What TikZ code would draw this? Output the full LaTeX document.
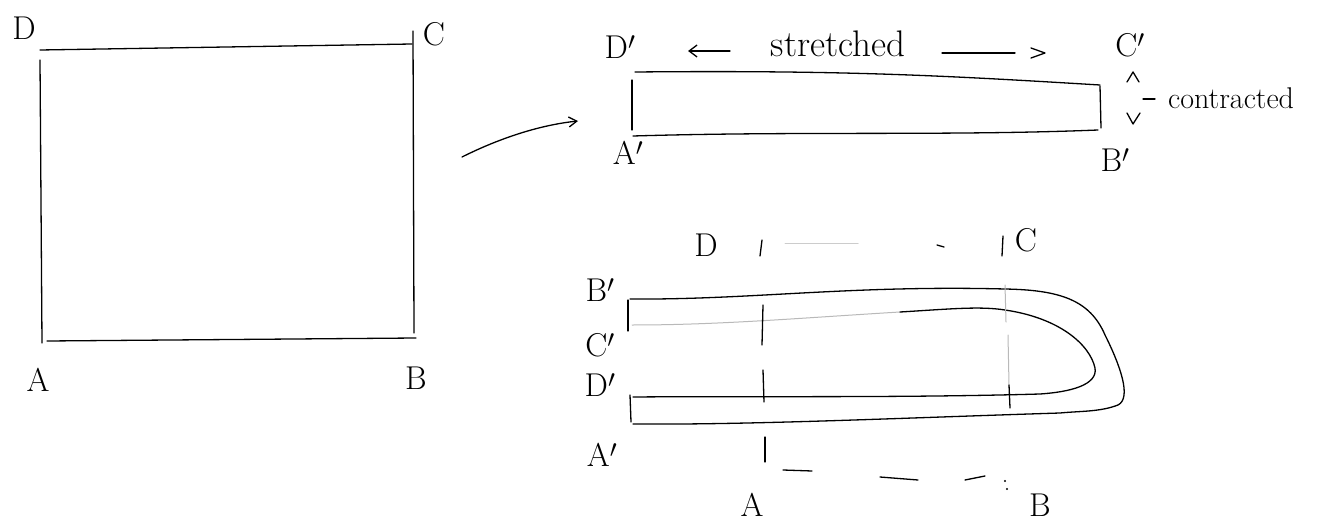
\documentclass[tikz,border=0pt]{standalone}
\usetikzlibrary{arrows.meta}
\begin{document}
\begin{tikzpicture}[x=1pt,y=-1pt]
\tikzset{
  pen/.style={line width=1.3pt, line cap=round, line join=round, black},
  faint/.style={line width=1pt, line cap=round, gray!55},
  lbl/.style={font=\fontsize{33}{35}\selectfont, inner sep=0pt},
  word/.style={font=\fontsize{30}{32}\selectfont, inner sep=0pt}
}
\useasboundingbox (0,0) rectangle (1317,524);
\fill[white] (0,0) rectangle (1317,524);

% ---------- left square ----------
\node[lbl] (D) at (24,28) {D};
\node[lbl] (C) at (434,34) {C};
\node[lbl] (A) at (38,380) {A};
\node[lbl] (B) at (416,378) {B};
\draw[pen] (40,50) -- (412,44);
\draw[pen] (40,60) -- (42,343);
\draw[pen] (413,31) -- (414,333);
\draw[pen] (47,341) -- (416,338);

% ---------- transformation arrow ----------
\coordinate (arrS) at (462,157);
\coordinate (arrE) at (578,121);
\draw[pen,-{Straight Barb[length=8pt,width=10pt]}] (arrS) .. controls (500,138) and (540,125) .. (arrE);

% ---------- stretched rectangle ----------
\node[lbl] (Dp1) at (620,47) {D$'$};
\node[lbl] (Cp1) at (1130,45) {C$'$};
\node[lbl] (Ap1) at (628,153) {A$'$};
\node[lbl] (Bp1) at (1115,160) {B$'$};
\draw[pen] (635,72) .. controls (850,70) and (950,76) .. (1100,85);
\draw[pen] (632,80) -- (632,130);
\draw[pen] (633,136) .. controls (800,131) and (950,136) .. (1098,130);
\draw[pen] (1100,86) -- (1101,128);

\coordinate (stL1) at (730,51);
\coordinate (stL2) at (688,51);
\draw[pen,-{Straight Barb[length=8pt,width=12pt]}] (stL1) -- (stL2);
\node[word, font=\fontsize{37}{39}\selectfont] (str) at (838,44) {stretched};
\draw[pen] (942,53) -- (1015,53);
\draw[pen] (1031,48) -- (1045,53) -- (1031,58);

\draw[pen] (1127,82) -- (1133,72) -- (1139,82);
\draw[pen] (1127,113) -- (1133,124) -- (1140,113);
\draw[pen] (1143,99) -- (1155,99);
\node[word, anchor=west] (con) at (1168,98) {contracted};

% ---------- folded strip ----------
\node[lbl] (Dt) at (706,245) {D};
\node[lbl] (Ct) at (1026,240) {C};
\draw[pen] (762,240) -- (760,256);
\draw[faint, gray!40] (785,243) -- (858,243);
\draw[pen] (937,245) -- (944,247);
\draw[pen] (1003,236) -- (1002,256);

\node[lbl] (Bp2) at (600,290) {B$'$};
\node[lbl] (Cp2) at (600,345) {C$'$};
\node[lbl] (Dp2) at (600,385) {D$'$};
\node[lbl] (Ap2) at (602,455) {A$'$};

% outer band (B' ... A')
\draw[pen] (630,299) .. controls (750,300) and (850,285) .. (1005,289)
  .. controls (1060,290) and (1090,300) .. (1105,335)
  .. controls (1120,365) and (1132,398) .. (1118,405)
  .. controls (1100,412) and (1080,411) .. (1060,413)
  .. controls (900,418) and (750,425) .. (633,424);
\draw[pen] (628,300) -- (628,331);
\draw[pen] (630,395) -- (631,422);

% inner band (C' ... D')
\draw[faint] (632,325) .. controls (720,325) and (800,318) .. (900,312);
\draw[pen] (900,312) .. controls (950,309) and (980,306) .. (1005,310)
  .. controls (1060,318) and (1090,345) .. (1095,368)
  .. controls (1098,385) and (1070,392) .. (1040,394)
  .. controls (900,398) and (750,396) .. (633,397);

% cross ticks
\draw[pen] (763,305) -- (762,345);
\draw[pen] (763,370) -- (764,402);
\draw[faint] (1005,285) -- (1006,322);
\draw[faint] (1008,335) -- (1009,385);
\draw[pen] (1009,385) -- (1010,408);

% bottom row
\draw[pen] (765,437) -- (765,462);
\draw[pen] (783,470) -- (812,471);
\draw[pen] (880,477) -- (918,480);
\draw[pen] (965,480) -- (985,476);
\fill (1005,481) circle (1.2pt);
\fill (1007,489) circle (1.2pt);
\node[lbl] (Ab) at (752,505) {A};
\node[lbl] (Bb) at (1040,505) {B};
\end{tikzpicture}
\end{document}
